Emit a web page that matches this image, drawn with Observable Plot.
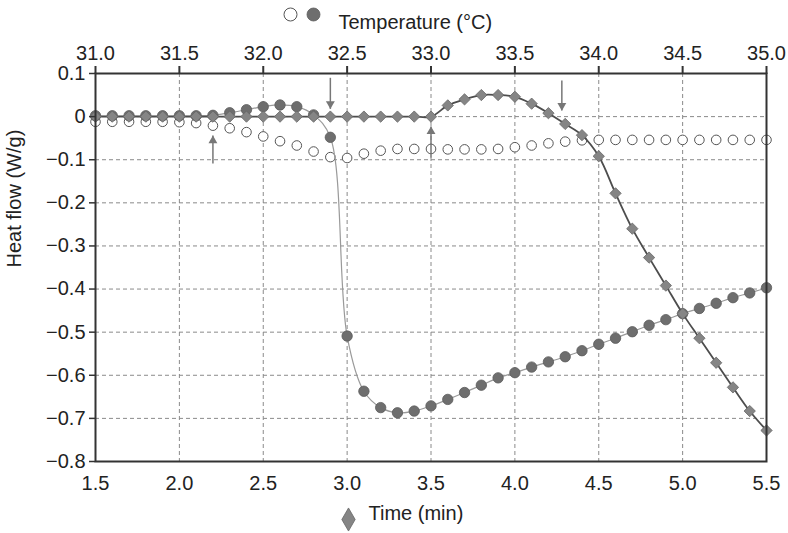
<!DOCTYPE html>
<html><head><meta charset="utf-8">
<script src="https://cdn.jsdelivr.net/npm/d3@7"></script>
<script src="https://cdn.jsdelivr.net/npm/@observablehq/plot@0.6"></script>
<style>body{margin:0;background:#fff;}</style>
</head><body><div id="chart"></div>
<script>
// Heat flow vs time (diamonds), one value every 0.1 min
const timeMin = [1.5,1.6,1.7,1.8,1.9,2.0,2.1,2.2,2.3,2.4,2.5,2.6,2.7,2.8,2.9,3.0,3.1,3.2,3.3,3.4,3.5,
  3.6,3.7,3.8,3.9,4.0,4.1,4.2,4.3,4.4,4.5,4.6,4.7,4.8,4.9,5.0,5.1,5.2,5.3,5.4,5.5];
const heatFlowTime = [0,0,0,0,0,0,0,0,0,0,0,0,0,0,0,0,0,0,0,0,0,
  0.026,0.040,0.050,0.050,0.046,0.030,0.008,-0.017,-0.043,-0.092,-0.178,-0.260,-0.327,-0.392,-0.457,-0.514,-0.571,-0.628,-0.683,-0.728];

// Heat flow vs temperature (circles), one value every 0.1 °C
const temperatureC = [31.0,31.1,31.2,31.3,31.4,31.5,31.6,31.7,31.8,31.9,32.0,32.1,32.2,32.3,32.4,32.5,32.6,32.7,32.8,32.9,33.0,
  33.1,33.2,33.3,33.4,33.5,33.6,33.7,33.8,33.9,34.0,34.1,34.2,34.3,34.4,34.5,34.6,34.7,34.8,34.9,35.0];
const heatFlowTempFilled = [0.002,0.002,0.002,0.002,0.002,0.002,0.002,0.003,0.009,0.016,0.023,0.027,0.023,0.004,-0.048,
  -0.509,-0.637,-0.675,-0.687,-0.683,-0.671,-0.656,-0.640,-0.623,-0.606,-0.594,-0.581,-0.569,-0.557,-0.543,-0.528,
  -0.514,-0.499,-0.484,-0.471,-0.457,-0.445,-0.433,-0.420,-0.409,-0.397];
const heatFlowTempOpen = [-0.012,-0.012,-0.012,-0.012,-0.012,-0.013,-0.015,-0.021,-0.027,-0.036,-0.046,-0.057,-0.067,-0.081,-0.094,
  -0.096,-0.086,-0.079,-0.075,-0.075,-0.075,-0.076,-0.076,-0.076,-0.075,-0.071,-0.067,-0.062,-0.058,-0.055,-0.054,
  -0.054,-0.054,-0.054,-0.054,-0.054,-0.054,-0.054,-0.054,-0.054,-0.054];

// Axis ticks and labels
const timeTicks = [1.5,2.0,2.5,3.0,3.5,4.0,4.5,5.0,5.5];
const timeTickLabels = ["1.5","2.0","2.5","3.0","3.5","4.0","4.5","5.0","5.5"];
const tempTickLabels = ["31.0","31.5","32.0","32.5","33.0","33.5","34.0","34.5","35.0"];
const heatTicks = [0.1,0,-0.1,-0.2,-0.3,-0.4,-0.5,-0.6,-0.7,-0.8];
const heatTickLabels = ["0.1","0","−0.1","−0.2","−0.3","−0.4","−0.5","−0.6","−0.7","−0.8"];
const gridTime = [2.0,2.5,3.0,3.5,4.0,4.5,5.0];
const gridHeat = [0,-0.1,-0.2,-0.3,-0.4,-0.5,-0.6,-0.7];
// Temperature axis is aligned to the time axis: 31.0 °C sits at 1.5 min
const tempOffset = 29.5;

// Arrows (x in time units, from y1 to tip y2)
const arrowsDown = [{t:2.9, y1:0.090, y2:0.018}, {t:4.28, y1:0.084, y2:0.014}];
const arrowsUp = [{t:2.2, y1:-0.109, y2:-0.044}, {t:3.5, y1:-0.095, y2:-0.023}];

const legendTop = "Temperature (°C)";
const legendBottom = "Time (min)";
const yTitle = "Heat flow (W/g)";

const diamonds = timeMin.map((t,i)=>({x:t, y:heatFlowTime[i]}));
const filled = temperatureC.map((c,i)=>({x:c - tempOffset, y:heatFlowTempFilled[i]}));
const open = temperatureC.map((c,i)=>({x:c - tempOffset, y:heatFlowTempOpen[i]}));

const FONT = 20;
const chart = Plot.plot({
  width: 788, height: 533,
  marginLeft: 95, marginRight: 22, marginTop: 73, marginBottom: 72,
  style: {fontFamily: "'Liberation Sans', Arial, sans-serif", fontSize: FONT + "px", background: "#fff", color: "#222"},
  x: {domain: [1.5, 5.5]},
  y: {domain: [-0.8, 0.1]},
  marks: [
    Plot.ruleX(gridTime, {stroke: "#8a8a8a", strokeDasharray: "4,3", strokeWidth: 1}),
    Plot.ruleY(gridHeat, {stroke: "#8a8a8a", strokeDasharray: "4,3", strokeWidth: 1}),
    // open circles
    Plot.dot(open, {x: "x", y: "y", r: 4.8, fill: "white", stroke: "#555", strokeWidth: 1}),
    // filled circles with thin line
    Plot.line(filled, {x: "x", y: "y", stroke: "#9a9a9a", strokeWidth: 1.2, curve: "catmull-rom"}),
    Plot.dot(filled, {x: "x", y: "y", r: 5.2, fill: "#6e6e6e", stroke: "#5a5a5a", strokeWidth: 0.8}),
    // diamonds with darker line
    Plot.line(diamonds, {x: "x", y: "y", stroke: "#4d4d4d", strokeWidth: 1.8, curve: "catmull-rom"}),
    Plot.dot(diamonds, {x: "x", y: "y", symbol: "diamond2", r: 5.1, fill: "#858585", stroke: "#666", strokeWidth: 0.8}),
    // arrows
    Plot.link(arrowsDown, {x1: "t", x2: "t", y1: "y1", y2: "y2", stroke: "#777", strokeWidth: 1.5}),
    Plot.dot(arrowsDown, {x: "t", y: "y2", symbol: "triangle", r: 3.3, rotate: 180, dy: -5, fill: "#777", stroke: "none"}),
    Plot.link(arrowsUp, {x1: "t", x2: "t", y1: "y1", y2: "y2", stroke: "#777", strokeWidth: 1.5}),
    Plot.dot(arrowsUp, {x: "t", y: "y2", symbol: "triangle", r: 3.3, dy: 5, fill: "#777", stroke: "none"}),
    Plot.frame({stroke: "#333", strokeWidth: 2}),
    // axes
    Plot.axisY({ticks: heatTicks, tickFormat: (d) => heatTickLabels[heatTicks.indexOf(d)], tickSize: 6, tickPadding: 4, stroke: "#333", strokeWidth: 1.5, label: null, fontSize: FONT}),
    Plot.axisX({anchor: "bottom", ticks: timeTicks, tickFormat: (d) => timeTickLabels[timeTicks.indexOf(d)], tickSize: 0, tickPadding: 14, label: null, fontSize: FONT}),
    Plot.axisX({anchor: "top", ticks: timeTicks, tickFormat: (d) => tempTickLabels[timeTicks.indexOf(d)], tickSize: 8, tickPadding: 6, stroke: "#333", strokeWidth: 2, label: null, fontSize: FONT}),
    // y title
    Plot.text([yTitle], {frameAnchor: "left", dx: -81, rotate: -90, fontSize: FONT, fill: "#222"}),
    // top legend
    Plot.dot([0], {frameAnchor: "top-left", dx: 195, dy: -59, r: 6.5, fill: "white", stroke: "#555", strokeWidth: 1}),
    Plot.dot([0], {frameAnchor: "top-left", dx: 218, dy: -59, r: 6.5, fill: "#6e6e6e", stroke: "#5a5a5a", strokeWidth: 0.8}),
    Plot.text([legendTop], {frameAnchor: "top-left", dx: 243, dy: -59, textAnchor: "start", fontSize: FONT, fill: "#222"}),
    // bottom legend
    Plot.dot([0], {frameAnchor: "bottom-left", dx: 253, dy: 58, symbol: "diamond", r: 7, fill: "#858585", stroke: "#666", strokeWidth: 0.8}),
    Plot.text([legendBottom], {frameAnchor: "bottom-left", dx: 273, dy: 58, textAnchor: "start", fontSize: FONT, fill: "#222"})
  ]
});
document.getElementById("chart").appendChild(chart);
</script>
</body></html>
